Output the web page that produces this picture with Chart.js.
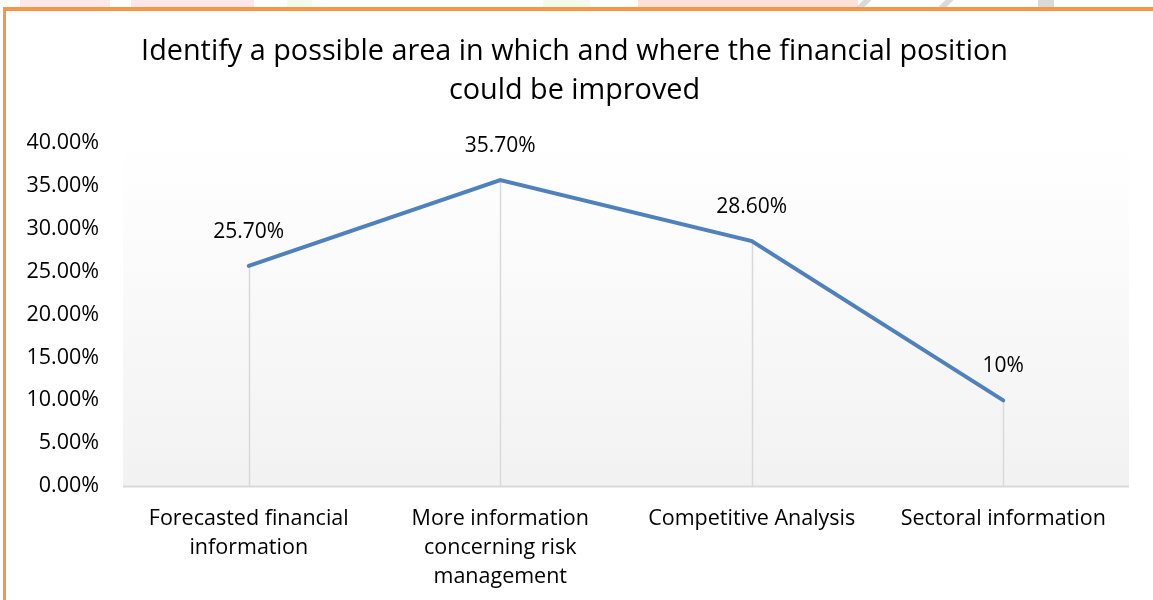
<!DOCTYPE html>
<html>
<head>
<meta charset="utf-8">
<script src="https://cdn.jsdelivr.net/npm/chart.js@4"></script>
<style>
  html, body { margin: 0; padding: 0; background: #fff; }
  #wrap { position: relative; width: 1153px; height: 600px; overflow: hidden; }
  #frame { position: absolute; left: 3px; top: 7px; width: 1160px; height: 600px;
           border-left: 3px solid #f79646; border-top: 4px solid #f79646; box-sizing: border-box; }
  .wm { position: absolute; top: 0; height: 7px; }
  .sl { position: absolute; top: 0; height: 7px; width: 8px; background: #dadada; transform: skewX(-45deg); }
  canvas { position: absolute; left: 0; top: 0; }
</style>
</head>
<body>
<div id="wrap">
  <div class="wm" style="left:20px;width:90px;background:#fee9e9"></div>
  <div class="wm" style="left:131px;width:123px;background:#fee6ea"></div>
  <div class="wm" style="left:287px;width:25px;background:#f3fbea"></div>
  <div class="wm" style="left:543px;width:47px;background:#f3fbea"></div>
  <div class="wm" style="left:638px;width:220px;background:#fee2da"></div>
  <div class="sl" style="left:860px"></div>
  <div class="sl" style="left:942px"></div>
  <div class="sl" style="left:1038px;width:16px;transform:none"></div>
  <canvas id="myChart" width="1153" height="600"></canvas>
  <div id="frame"></div>
</div>
<script>
const labels = [
  ['Forecasted financial', 'information'],
  ['More information', 'concerning risk', 'management'],
  'Competitive Analysis',
  'Sectoral information'
];
const values = [25.7, 35.7, 28.6, 10];
const valueLabels = ['25.70%', '35.70%', '28.60%', '10%'];

const FONT = "'Open Sans', sans-serif";

const plotBg = {
  id: 'plotBg',
  beforeDraw(chart) {
    const { ctx, chartArea: a } = chart;
    const g = ctx.createLinearGradient(0, a.top, 0, a.bottom);
    g.addColorStop(0, '#ffffff');
    g.addColorStop(1, '#f2f2f2');
    ctx.save();
    ctx.fillStyle = g;
    ctx.fillRect(a.left, a.top, a.right - a.left, a.bottom - a.top);
    ctx.restore();
  }
};

const dropLines = {
  id: 'dropLines',
  beforeDatasetsDraw(chart) {
    const { ctx, chartArea: a } = chart;
    const pts = chart.getDatasetMeta(0).data;
    ctx.save();
    ctx.strokeStyle = '#d9d9d9';
    ctx.lineWidth = 1.5;
    pts.forEach(p => {
      ctx.beginPath();
      ctx.moveTo(Math.round(p.x) + 0.5, p.y);
      ctx.lineTo(Math.round(p.x) + 0.5, a.bottom);
      ctx.stroke();
    });
    ctx.beginPath();
    ctx.moveTo(a.left, a.bottom + 0.5);
    ctx.lineTo(a.right, a.bottom + 0.5);
    ctx.lineWidth = 2;
    ctx.stroke();
    ctx.restore();
  }
};

const valueText = {
  id: 'valueText',
  afterDatasetsDraw(chart) {
    const { ctx } = chart;
    const pts = chart.getDatasetMeta(0).data;
    ctx.save();
    ctx.font = '21px ' + FONT;
    ctx.fillStyle = '#000';
    ctx.textAlign = 'center';
    ctx.textBaseline = 'middle';
    pts.forEach((p, i) => {
      ctx.fillText(valueLabels[i], p.x, p.y - 34);
    });
    ctx.restore();
  }
};

const ctx = document.getElementById('myChart');

new Chart(ctx, {
  type: 'line',
  data: {
    labels: labels,
    datasets: [{
      data: values,
      borderColor: '#4f81bd',
      borderWidth: 4,
      pointRadius: 0,
      tension: 0,
      borderCapStyle: 'round'
    }]
  },
  options: {
    responsive: false,
    animation: false,
    layout: { padding: { left: 20, right: 24, top: 0, bottom: 0 } },
    plugins: {
      legend: { display: false },
      tooltip: { enabled: false },
      title: {
        display: true,
        text: ['Identify a possible area in which and where the financial position', 'could be improved'],
        color: '#000',
        font: { family: FONT, size: 28.8, weight: 'normal', lineHeight: 1.36 },
        padding: { top: 32, bottom: 33 }
      }
    },
    scales: {
      x: {
        offset: true,
        grid: { display: false },
        border: { display: false },
        ticks: {
          color: '#000',
          font: { family: FONT, size: 21.5, lineHeight: 1.36 },
          maxRotation: 0,
          autoSkip: false,
          padding: 10
        },
        afterFit(s) { s.height = 114; }
      },
      y: {
        min: 0,
        max: 40,
        grid: { display: false },
        border: { display: false },
        ticks: {
          stepSize: 5,
          color: '#000',
          font: { family: FONT, size: 21.5 },
          padding: 16,
          callback: v => v.toFixed(2) + '%'
        },
        afterFit(s) { s.width = 103; }
      }
    }
  },
  plugins: [plotBg, dropLines, valueText]
});
</script>
</body>
</html>
